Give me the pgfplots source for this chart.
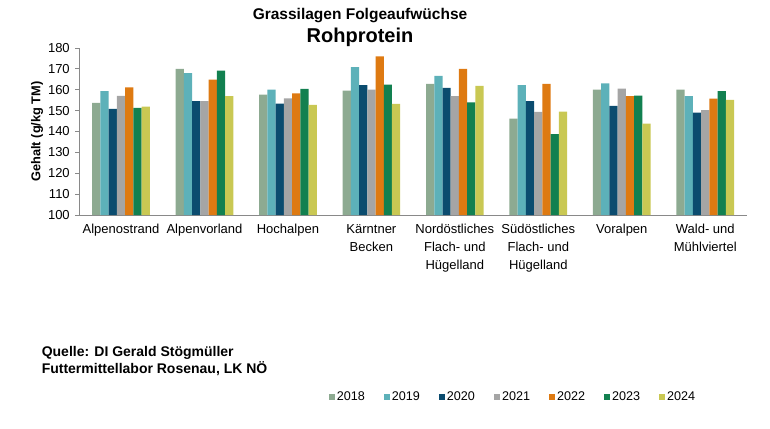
\documentclass[border=0pt]{standalone}
\usepackage{fontspec}
\setmainfont{Liberation Sans}
\usepackage{pgfplots}
\usepackage{pgfplotstable}
\pgfplotsset{compat=1.18}

\definecolor{c18}{HTML}{8DAA91}
\definecolor{c19}{HTML}{5DB1B9}
\definecolor{c20}{HTML}{0B4C6F}
\definecolor{c21}{HTML}{A5A5A5}
\definecolor{c22}{HTML}{DE7A12}
\definecolor{c23}{HTML}{128050}
\definecolor{c24}{HTML}{C9C853}
\definecolor{axisgray}{HTML}{898989}

% Rohprotein (g/kg TM), Regionen 0..7
\pgfplotstableread{
x y2018 y2019 y2020 y2021 y2022 y2023 y2024
0 153.7 159.3 150.8 157.1 161.2 151.3 151.9
1 170.0 168.0 154.5 154.6 164.9 169.2 156.9
2 157.7 160.1 153.4 155.9 158.3 160.4 152.7
3 159.6 170.8 162.2 160.1 176.0 162.5 153.2
4 162.8 166.7 160.9 156.9 170.0 154.0 161.9
5 146.2 162.2 154.5 149.4 162.8 138.8 149.5
6 160.1 163.1 152.3 160.6 156.9 157.2 143.8
7 160.1 156.9 149.0 150.2 155.8 159.3 155.1
}\datatable

\begin{document}
\begin{tikzpicture}
\begin{axis}[
    at={(0pt,0pt)}, anchor=south west,
    scale only axis, width=667.75pt, height=167pt,
    ybar=0pt, bar width=8.24pt,
    xmin=-0.5, xmax=7.5, ymin=100, ymax=180,
    ytick={100,110,...,180},
    xtick={0,...,7},
    xticklabels={Alpenostrand, Alpenvorland, Hochalpen, {Kärntner\\Becken},
        {Nordöstliches\\Flach- und\\Hügelland}, {Südöstliches\\Flach- und\\Hügelland},
        Voralpen, {Wald- und\\Mühlviertel}},
    axis x line*=bottom, axis y line*=left,
    axis line style={draw=axisgray, line width=0.8pt},
    tick align=outside, major tick length=4pt,
    xtick style={draw=none},
    ytick style={draw=axisgray, line width=0.8pt},
    /pgf/number format/assume math mode=true,
    yticklabel style={font=\fontsize{13}{15}\selectfont, xshift=-2pt},
    xticklabel style={align=center, font=\fontsize{13}{18}\selectfont, yshift=-2pt},
    ylabel={\textbf{Gehalt (g/kg TM)}},
    ylabel style={font=\fontsize{12.8}{15}\selectfont, at={(axis description cs:-0.0633,0.5)}, anchor=center},
    every axis plot/.append style={draw=none, fill opacity=1},
    legend columns=7,
    legend style={at={(axis description cs:0.6496,-1.09)}, anchor=center, draw=none,
        font=\fontsize{12.6}{14}\selectfont,
        /tikz/every even column/.append style={column sep=17pt}},
    legend image code/.code={\fill[#1] (0pt,-3pt) rectangle (6pt,3pt);},
]
\addplot[fill=c18] table[x=x, y=y2018] {\datatable};
\addplot[fill=c19] table[x=x, y=y2019] {\datatable};
\addplot[fill=c20] table[x=x, y=y2020] {\datatable};
\addplot[fill=c21] table[x=x, y=y2021] {\datatable};
\addplot[fill=c22] table[x=x, y=y2022] {\datatable};
\addplot[fill=c23] table[x=x, y=y2023] {\datatable};
\addplot[fill=c24] table[x=x, y=y2024] {\datatable};
\legend{2018, 2019, 2020, 2021, 2022, 2023, 2024}
\end{axis}
\node[font=\bfseries\fontsize{15.5}{18}\selectfont] at (280.75pt,199pt) {Grassilagen Folgeaufwüchse};
\node[font=\bfseries\fontsize{20}{24}\selectfont] at (280.75pt,178pt) {Rohprotein};
\node[anchor=west, align=left, font=\bfseries\fontsize{14}{17}\selectfont] at (-41pt,-146.5pt)
    {Quelle: DI Gerald Stögmüller\\Futtermittellabor Rosenau, LK NÖ};
\pgfresetboundingbox
\useasboundingbox (-79.25pt,-213pt) rectangle (690.75pt,215pt);
\end{tikzpicture}
\end{document}
